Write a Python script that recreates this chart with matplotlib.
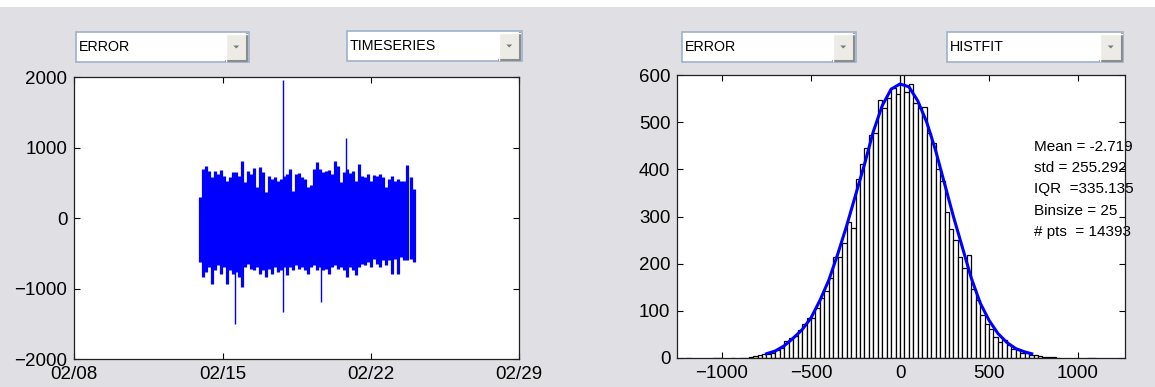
import matplotlib
matplotlib.use("Agg")
import matplotlib.pyplot as plt
import matplotlib.dates as mdates
from matplotlib.patches import Rectangle, Polygon
from datetime import datetime, timedelta

plt.rcParams['font.family'] = ['Liberation Sans', 'DejaVu Sans']

W, H = 1155, 387
BG = '#e0dfe3'

# time series, drawn as one min/max column per ~3.4 hours
t_start = datetime(2008, 2, 13, 22, 41)
t_hours = [0, 3.4, 6.8, 10.2, 13.6, 17.0, 20.4, 23.8, 27.2, 30.6, 34.1, 37.5,
           40.9, 44.3, 47.7, 51.1, 54.5, 57.9, 61.3, 64.7, 68.1, 71.5, 74.9, 78.3,
           81.7, 85.1, 88.5, 91.9, 95.3, 98.7, 102.2, 105.6, 109.0, 112.4, 115.8, 119.2,
           122.6, 126.0, 129.4, 132.8, 136.2, 139.6, 143.0, 146.4, 149.8, 153.2, 156.6, 160.0,
           163.4, 166.8, 170.3, 173.7, 177.1, 180.5, 183.9, 187.3, 190.7, 194.1, 197.5, 200.9,
           204.3, 207.7, 211.1, 214.5, 217.9, 221.3, 224.7, 228.1, 231.5, 234.9, 238.4, 241.8]
err_max = [306, 697, 745, 674, 580, 674, 627, 683, 603, 533, 580, 650,
           660, 603, 815, 509, 674, 627, 709, 438, 721, 650, 368, 603,
           556, 580, 533, 556, 603, 627, 697, 391, 627, 636, 580, 556,
           448, 476, 697, 792, 697, 650, 674, 683, 627, 806, 745, 509,
           660, 697, 636, 674, 533, 768, 603, 580, 627, 533, 617, 603,
           627, 580, 438, 556, 603, 533, 556, 533, 533, 754, 590, 415]
err_min = [-620, -826, -762, -692, -928, -739, -668, -786, -692, -928, -739, -786,
           -762, -833, -975, -692, -645, -715, -739, -692, -786, -739, -833, -715,
           -786, -692, -762, -739, -692, -809, -692, -739, -668, -715, -692, -739,
           -786, -692, -668, -739, -692, -739, -715, -786, -692, -668, -715, -692,
           -739, -833, -692, -739, -809, -692, -645, -668, -620, -692, -573, -645,
           -692, -598, -668, -598, -786, -575, -786, -551, -598, -598, -575, -621]

# isolated outliers
spike_times = ['2008-02-15 14:25', '2008-02-17 20:54', '2008-02-19 15:14', '2008-02-20 20:25']
spike_hi = [0, 1962, 0, 1143]
spike_lo = [-1504, -1329, -1187, 0]

# histogram (bin size 25) and fitted curve
bin_centers = [-1187.5, -1037.5, -1012.5, -937.5, -887.5, -862.5, -837.5, -812.5, -787.5,
               -762.5, -737.5, -712.5, -687.5, -662.5, -637.5, -612.5, -587.5, -562.5,
               -537.5, -512.5, -487.5, -462.5, -437.5, -412.5, -387.5, -362.5, -337.5,
               -312.5, -287.5, -262.5, -237.5, -212.5, -187.5, -162.5, -137.5, -112.5,
               -87.5, -62.5, -37.5, -12.5, 12.5, 37.5, 62.5, 87.5, 112.5, 137.5,
               162.5, 187.5, 212.5, 237.5, 262.5, 287.5, 312.5, 337.5, 362.5, 387.5,
               412.5, 437.5, 462.5, 487.5, 512.5, 537.5, 562.5, 587.5, 612.5, 637.5,
               662.5, 687.5, 712.5, 737.5, 762.5, 787.5, 812.5, 837.5, 862.5, 887.5,
               1062.5, 1087.5]
bin_counts = [1, 1, 1, 1, 1, 1, 3, 4, 7,
              8, 8, 11, 16, 22, 35, 43, 46, 60,
              72, 85, 84, 105, 128, 141, 169, 215, 215,
              243, 289, 275, 380, 412, 445, 473, 476, 547,
              530, 551, 573, 559, 612, 565, 580, 540, 530, 532,
              477, 455, 400, 376, 310, 274, 250, 214, 190, 218,
              147, 123, 91, 73, 62, 45, 34, 38, 27, 20,
              17, 10, 10, 7, 6, 4, 3, 2, 2, 1,
              1, 1]
fit_x = [-750, -700, -650, -600, -550, -500, -450, -400, -350, -300, -250, -200, -150, -100,
         -50, 0, 50, 100, 150, 200, 250, 300, 350, 400, 450, 500, 550, 600, 650, 700, 740]
fit_y = [9, 15, 26, 42, 60, 85, 122, 165, 220, 280, 345, 410, 480, 535,
         570, 581, 575, 545, 500, 440, 370, 300, 235, 170, 117, 80, 52, 33, 20, 13, 9]
stats_lines = ['Mean = -2.719', 'std = 255.292', 'IQR  =335.135', 'Binsize = 25', '# pts  = 14393']


def px_rect(x0, y0, x1, y1):
    return [x0 / W, 1 - y1 / H, (x1 - x0) / W, (y1 - y0) / H]


def fx(x):
    return x / W


def fy(y):
    return 1 - y / H


def dropdown(fig, x0, y0, x1, y1, label):
    fig.patches.append(Rectangle((fx(x0), fy(y1)), (x1 - x0) / W, (y1 - y0) / H,
                                 transform=fig.transFigure, facecolor='white',
                                 edgecolor='#9db2ca', lw=1.2))
    bx0, bx1, by0, by1 = x1 - 23, x1 - 1.5, y0 + 1.5, y1 - 1.5
    fig.patches.append(Rectangle((fx(bx0), fy(by1)), (bx1 - bx0) / W, (by1 - by0) / H,
                                 transform=fig.transFigure, facecolor='#ecebe6',
                                 edgecolor='none'))
    fig.lines.append(plt.Line2D([fx(bx0), fx(bx1), fx(bx1)], [fy(by1), fy(by1), fy(by0)],
                                transform=fig.transFigure, color='#8c8c8c', lw=1.5))
    fig.lines.append(plt.Line2D([fx(bx0), fx(bx0), fx(bx1)], [fy(by1), fy(by0), fy(by0)],
                                transform=fig.transFigure, color='white', lw=1.0))
    cx, cy = (bx0 + bx1) / 2, (by0 + by1) / 2
    fig.patches.append(Polygon([(fx(cx - 3), fy(cy - 1.5)), (fx(cx + 3), fy(cy - 1.5)),
                                (fx(cx), fy(cy + 1.5))], closed=True,
                               transform=fig.transFigure, facecolor='#7a7a7a', edgecolor='none'))
    fig.text(fx(x0 + 3), fy((y0 + y1) / 2), label, fontsize=10.3, va='center', ha='left')


def style_axes(ax):
    ax.set_facecolor('white')
    ax.tick_params(direction='in', length=4, width=0.8, top=True, right=True,
                   labelsize=13.5, pad=5, colors='black')
    for s in ax.spines.values():
        s.set_linewidth(0.9)
        s.set_color('#202020')


fig = plt.figure(figsize=(W / 100, H / 100), dpi=100, facecolor=BG)
fig.patches.append(Rectangle((0, fy(7)), 1, 7 / H, transform=fig.transFigure,
                             facecolor='white', edgecolor='none'))

# left: time series
ax1 = fig.add_axes(px_rect(74.3, 77.3, 519, 359.3))
style_axes(ax1)
col_t = [t_start + timedelta(hours=h) for h in t_hours]
ax1.vlines(col_t, err_min, err_max, colors='#0000ff', lw=2.3)
sp_t = [datetime.strptime(s, '%Y-%m-%d %H:%M') for s in spike_times]
ax1.vlines(sp_t, spike_lo, spike_hi, colors='#0000ff', lw=1.0)
ax1.set_xlim(datetime(2008, 2, 8), datetime(2008, 2, 29))
ax1.set_ylim(-2000, 2000)
ax1.set_xticks([datetime(2008, 2, d) for d in (8, 15, 22, 29)])
ax1.xaxis.set_major_formatter(mdates.DateFormatter('%m/%d'))
ax1.set_yticks([-2000, -1000, 0, 1000, 2000])

# right: histogram with fit
ax2 = fig.add_axes(px_rect(677.3, 75, 1124.5, 358))
style_axes(ax2)
ax2.bar(bin_centers, bin_counts, width=25, facecolor='white', edgecolor='black', lw=0.9)
ax2.plot(fit_x, fit_y, color='#0000ff', lw=2.2)
ax2.set_xlim(-1251, 1261)
ax2.set_ylim(0, 600)
ax2.set_xticks([-1000, -500, 0, 500, 1000])
ax2.set_yticks([0, 100, 200, 300, 400, 500, 600])
for i, line in enumerate(stats_lines):
    ax2.text(fx(1034), fy(147.3 + 21.1 * i), line, transform=fig.transFigure,
             fontsize=11, va='center', ha='left', zorder=2)

dropdown(fig, 76, 32, 248.5, 62, 'ERROR')
dropdown(fig, 347, 31, 521.5, 61, 'TIMESERIES')
dropdown(fig, 681.5, 32, 855.5, 62, 'ERROR')
dropdown(fig, 947, 32, 1123, 62, 'HISTFIT')

fig.savefig('out.png', dpi=100, facecolor=BG)
